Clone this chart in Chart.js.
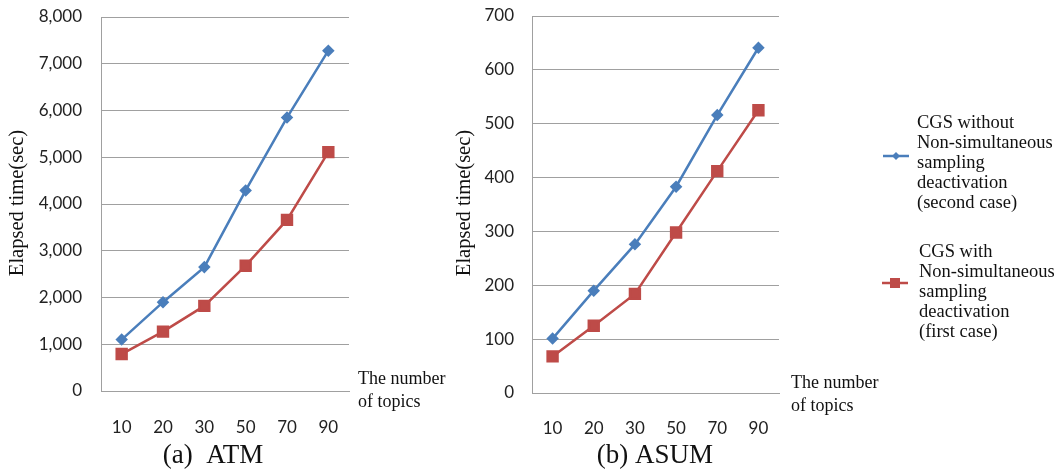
<!DOCTYPE html>
<html>
<head>
<meta charset="utf-8">
<script src="https://cdn.jsdelivr.net/npm/chart.js@4.4.1/dist/chart.umd.min.js"></script>
<style>
  html, body { margin: 0; padding: 0; background: #fff; }
  #wrap { position: relative; width: 1061px; height: 470px; overflow: hidden; }
  #wrap canvas { position: absolute; left: 0; top: 0; }
</style>
</head>
<body>
<div id="wrap">
  <canvas id="c1" width="1061" height="470"></canvas>
  <canvas id="c2" width="1061" height="470"></canvas>
</div>
<script>
// ---- data ----
const topics = ["10", "20", "30", "50", "70", "90"];
const atmWithout = [1100, 1900, 2650, 4290, 5850, 7280];
const atmWith = [790, 1270, 1820, 2680, 3660, 5110];
const asumWithout = [101, 190, 276, 383, 516, 641];
const asumWith = [68, 125, 184, 298, 412, 525];
const atmTicks = [0, 8000, 1000];
const asumTicks = [0, 700, 100];
const seriesNames = [
  ["CGS without", "Non-simultaneous", "sampling", "deactivation", "(second case)"],
  ["CGS with", "Non-simultaneous", "sampling", "deactivation", "(first case)"]
];
const yTitle = "Elapsed time(sec)";
const xTitle = ["The number", "of topics"];
const captions = ["(a)  ATM", "(b) ASUM"];

const BLUE = "#4a7ebb";
const RED = "#be4b48";
const GRID = "#a0a0a0";
const TICKFONT = { family: "Lato", size: 17 };
const SERIF = "Liberation Serif, 'Times New Roman', serif";

function datasets(a, b) {
  return [
    { label: seriesNames[0].join(" "), data: a, borderColor: BLUE, backgroundColor: BLUE,
      borderWidth: 2.5, pointStyle: "rectRot", pointRadius: 4.5, pointHoverRadius: 4.5, tension: 0 },
    { label: seriesNames[1].join(" "), data: b, borderColor: RED, backgroundColor: RED,
      borderWidth: 2.5, pointStyle: "rect", pointRadius: 7, pointHoverRadius: 7, tension: 0 }
  ];
}

function textPlugin(opt) {
  return {
    id: "texts",
    afterDraw(chart) {
      const ctx = chart.ctx;
      const ca = chart.chartArea;
      ctx.save();
      ctx.fillStyle = "#111";
      // y title
      ctx.font = "20.5px " + SERIF;
      ctx.textAlign = "center";
      ctx.textBaseline = "middle";
      ctx.save();
      ctx.translate(opt.yTitleX, opt.yTitleY);
      ctx.rotate(-Math.PI / 2);
      ctx.fillText(yTitle, 0, 0);
      ctx.restore();
      // x title
      ctx.font = "18px " + SERIF;
      ctx.textAlign = "left";
      xTitle.forEach((t, i) => ctx.fillText(t, ca.right + opt.xTitleDx, opt.xTitleY + i * 23));
      // caption
      ctx.font = "27px " + SERIF;
      ctx.textAlign = "center";
      ctx.fillText(opt.caption, opt.capX, 456);
      // legend
      if (opt.legend) {
        ctx.font = "18.5px " + SERIF;
        ctx.textAlign = "left";
        const L = [
          { color: BLUE, style: "diamond", lx: 883, my: 156, tx: 917, ty: 123 },
          { color: RED, style: "square", lx: 882, my: 283, tx: 919, ty: 252 }
        ];
        L.forEach((l, k) => {
          ctx.strokeStyle = l.color;
          ctx.lineWidth = 2.5;
          ctx.beginPath();
          ctx.moveTo(l.lx, l.my);
          ctx.lineTo(l.lx + 26, l.my);
          ctx.stroke();
          ctx.fillStyle = l.color;
          const cx = l.lx + 13;
          if (l.style === "diamond") {
            ctx.beginPath();
            ctx.moveTo(cx, l.my - 4);
            ctx.lineTo(cx + 4, l.my);
            ctx.lineTo(cx, l.my + 4);
            ctx.lineTo(cx - 4, l.my);
            ctx.closePath();
            ctx.fill();
          } else {
            ctx.fillRect(cx - 5, l.my - 5, 10, 10);
          }
          ctx.fillStyle = "#111";
          seriesNames[k].forEach((t, i) => ctx.fillText(t, l.tx, l.ty + i * 20));
        });
      }
      ctx.restore();
    }
  };
}

function makeChart(id, a, b, ticks, opt) {
  return new Chart(document.getElementById(id), {
    type: "line",
    data: { labels: topics, datasets: datasets(a, b) },
    options: {
      responsive: false,
      animation: false,
      devicePixelRatio: 1,
      layout: { padding: opt.padding },
      plugins: { legend: { display: false }, tooltip: { enabled: false } },
      scales: {
        x: {
          type: "category",
          offset: true,
          grid: { display: false },
          border: { display: true, color: GRID, width: 1 },
          ticks: { font: TICKFONT, color: "#222", padding: opt.xPad, maxRotation: 0 },
          afterFit(s) { s.height = opt.xHeight; }
        },
        y: {
          min: ticks[0], max: ticks[1],
          grid: { color: GRID, lineWidth: 1, drawTicks: false },
          border: { display: true, color: GRID, width: 1 },
          ticks: {
            stepSize: ticks[2], font: TICKFONT, color: "#222", padding: opt.yPad,
            callback: v => v.toLocaleString("en-US")
          },
          afterFit(s) { s.width = opt.yWidth; s.paddingTop = 0; s.paddingBottom = 0; }
        }
      }
    },
    plugins: [textPlugin(opt)]
  });
}

makeChart("c1", atmWithout, atmWith, atmTicks, {
  padding: { left: 0, top: 17, right: 712, bottom: 0 },
  yWidth: 101, yPad: 19, xHeight: 79, xPad: 18,
  yTitleX: 18, yTitleY: 203, xTitleDx: 9, xTitleY: 379,
  caption: captions[0], capX: 213, legend: false
});
makeChart("c2", asumWithout, asumWith, asumTicks, {
  padding: { left: 432, top: 16, right: 282, bottom: 0 },
  yWidth: 100, yPad: 18, xHeight: 77, xPad: 17,
  yTitleX: 465, yTitleY: 203, xTitleDx: 12, xTitleY: 383,
  caption: captions[1], capX: 655, legend: true
});
</script>
</body>
</html>
